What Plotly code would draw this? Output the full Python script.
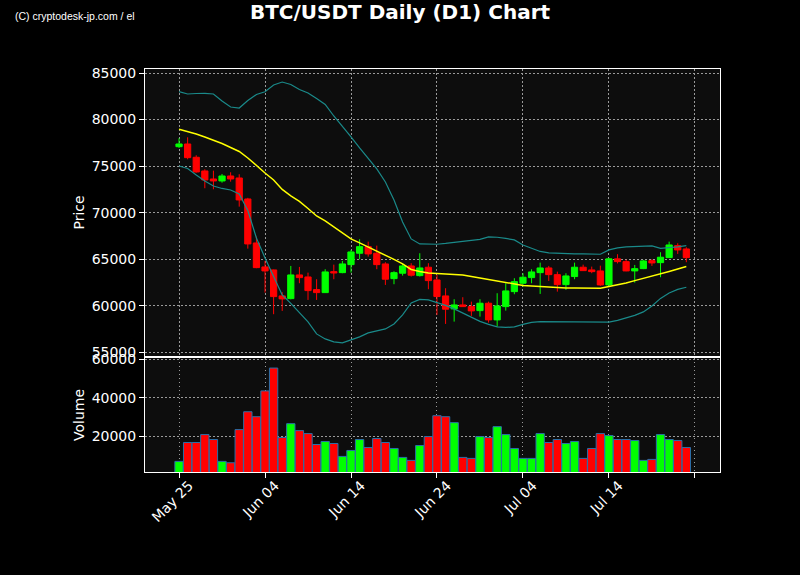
import pandas as pd
import plotly.graph_objects as go
from plotly.subplots import make_subplots

# Daily candles, 2024-05-25 .. 2024-07-23
dates = pd.date_range("2024-05-25", periods=60, freq="D")

opens = [77092, 77382, 75955, 74485, 73626, 73412, 73948, 73733, 71480, 66759,
         64184, 63862, 61072, 60782, 63325, 63110, 61748, 61426, 63679, 63572,
         64431, 65654, 66362, 65654, 64506, 62928, 63508, 64291, 63251, 64152,
         62789, 61072, 59677, 60106, 59924, 59495, 60289, 58497, 59924, 61533,
         62435, 63036, 63572, 64076, 63358, 62285, 63150, 64152, 63862, 63755,
         62252, 65050, 64752, 63755, 64001, 64860, 64645, 65182, 66469, 66115]
highs = [77993, 78100, 76169, 74667, 74517, 74163, 74345, 74131, 71600, 67435,
         64828, 63900, 61469, 64291, 64184, 63572, 62864, 63937, 64431, 64828,
         66008, 67156, 66899, 66469, 64688, 63722, 64506, 64581, 65654, 64581,
         63325, 61898, 60718, 60933, 60460, 60718, 60460, 61362, 62435, 62971,
         63508, 63937, 64645, 64291, 63679, 63508, 64645, 64431, 64220, 64323,
         65150, 65547, 64970, 64398, 64935, 65010, 65761, 66899, 66727, 66298]
lows = [76952, 75740, 74302, 72628, 72521, 73229, 73336, 70654, 66147, 64044,
        61426, 59109, 59463, 60700, 62435, 60643, 60643, 61400, 62864, 63508,
        63572, 65010, 65289, 63937, 62252, 62328, 63251, 63150, 63150, 61791,
        59033, 58068, 58314, 59900, 58926, 58851, 58207, 57778, 59495, 61255,
        62070, 62435, 61287, 62682, 61533, 61716, 62864, 63750, 63508, 62145,
        62150, 64560, 63720, 62499, 63950, 64291, 63079, 65150, 65579, 64688]
closes = [77382, 75912, 74377, 73519, 73412, 73948, 73626, 71373, 66652, 64109,
          63755, 60997, 60750, 63325, 63036, 61641, 61426, 63647, 63540, 64506,
          65793, 66362, 65579, 64431, 62864, 63572, 64291, 63293, 64076, 62714,
          61003, 59645, 60106, 59924, 59463, 60289, 58497, 60000, 61609, 62606,
          63079, 63647, 64076, 63358, 62285, 63218, 64152, 63787, 63679, 62252,
          65050, 64752, 63755, 64001, 64828, 64613, 65225, 66544, 66008, 65182]
volumes = [7150, 16920, 16920, 21030, 18460, 7150, 6430, 23600, 32850, 30280,
           43640, 55470, 19490, 26680, 23080, 21540, 15890, 17430, 16400, 9720,
           12800, 18460, 14350, 18970, 16920, 13830, 9200, 7660, 15370, 20000,
           30790, 30280, 27200, 9200, 8690, 20000, 19490, 25140, 21030, 13830,
           8690, 8690, 21540, 16920, 18460, 16400, 17430, 8690, 13830, 21540,
           20510, 18460, 18460, 17940, 7660, 8180, 21030, 18460, 17940, 14350]

# Bollinger bands (20, 2) as drawn on the chart
bb_upper = [82993, 82747, 82800, 82822, 82747, 81996, 81352, 81244, 82049, 82693,
            82993, 83712, 84034, 83766, 83230, 82854, 82253, 81620, 80386, 79313,
            78133, 76952, 75879, 74699, 73304, 71373, 69012, 67188, 66652, 66620,
            66620, 66705, 66813, 66920, 67027, 67135, 67403, 67370, 67242, 67081,
            66544, 66169, 65847, 65686, 65632, 65579, 65579, 65579, 65547, 65547,
            66008, 66222, 66330, 66383, 66437, 66437, 66169, 66222, 66330, 66469]
bb_mid = [78959, 78723, 78455, 78133, 77811, 77435, 77006, 76577, 75879, 75021,
          74270, 73519, 72500, 71802, 71212, 70461, 69656, 69120, 68476, 67886,
          67188, 66759, 66330, 65901, 65471, 64989, 64506, 63916, 63701, 63540,
          63486, 63433, 63379, 63325, 63164, 63003, 62843, 62628, 62467, 62306,
          62199, 62145, 62091, 62006, 61963, 61930, 61930, 61898, 61898, 61898,
          62091, 62252, 62467, 62714, 62950, 63164, 63411, 63701, 63969, 64237]
bb_lower = [75021, 74753, 74055, 73412, 72875, 72607, 72446, 72017, 70246, 67295,
            65149, 63111, 61179, 60267, 59248, 58282, 56995, 56458, 56136, 56029,
            56351, 56673, 57102, 57317, 57531, 58068, 59033, 60321, 60697, 60643,
            60375, 60053, 59677, 59248, 58765, 58336, 58014, 57746, 57692, 57746,
            58014, 58229, 58314, 58314, 58314, 58314, 58314, 58314, 58314, 58282,
            58250, 58443, 58711, 58980, 59355, 59999, 60804, 61394, 61770, 62006]

tick_dates = ["2024-05-25", "2024-06-04", "2024-06-14", "2024-06-24",
              "2024-07-04", "2024-07-14", "2024-07-24"]
tick_text = ["May 25", "Jun 04", "Jun 14", "Jun 24", "Jul 04", "Jul 14", ""]

GREEN = "#00ff00"
RED = "#ff0000"
bar_colors = [GREEN if c >= o else RED for o, c in zip(opens, closes)]

fig = make_subplots(rows=2, cols=1, shared_xaxes=True)

fig.add_trace(go.Scatter(x=dates, y=bb_upper, mode="lines",
                         line=dict(color="#1a8a8a", width=1.2)), row=1, col=1)
fig.add_trace(go.Scatter(x=dates, y=bb_lower, mode="lines",
                         line=dict(color="#1a8a8a", width=1.2)), row=1, col=1)
fig.add_trace(go.Scatter(x=dates, y=bb_mid, mode="lines",
                         line=dict(color="#ffff00", width=1.5)), row=1, col=1)
fig.add_trace(go.Candlestick(x=dates, open=opens, high=highs, low=lows, close=closes,
                             increasing=dict(line=dict(color=GREEN, width=1), fillcolor=GREEN),
                             decreasing=dict(line=dict(color=RED, width=1), fillcolor=RED)),
              row=1, col=1)
fig.add_trace(go.Bar(x=dates, y=volumes, width=86400000 * 0.97,
                     marker=dict(color=bar_colors, line=dict(color="#2a6fa8", width=1))),
              row=2, col=1)

axis_style = dict(showline=True, mirror=True, linecolor="white", linewidth=1,
                  showgrid=True, gridcolor="#9a9a9a", griddash="1.5px,2.5px", gridwidth=1,
                  zeroline=False, tickfont=dict(color="white", size=14, family="DejaVu Sans"),
                  ticks="outside", tickcolor="white", ticklen=5)

xrange = ["2024-05-21 01:00", "2024-07-26 22:00"]
fig.update_xaxes(axis_style, range=xrange, tickvals=tick_dates, ticktext=tick_text,
                 rangeslider_visible=False)
fig.update_xaxes(showticklabels=False, ticks="", row=1, col=1)
fig.update_xaxes(tickangle=-45, ticklabelshift=10, ticklabelstandoff=-6, row=2, col=1)

fig.update_yaxes(axis_style, tickformat="d")
fig.update_yaxes(range=[54630, 85430], tickvals=[55000, 60000, 65000, 70000, 75000, 80000, 85000],
                 domain=[0.288, 1.0],
                 title=dict(text="Price", font=dict(color="white", size=14, family="DejaVu Sans"),
                            standoff=3),
                 row=1, col=1)
fig.update_yaxes(range=[1650, 60700], tickvals=[20000, 40000, 60000], domain=[0.0, 0.283],
                 title=dict(text="Volume", font=dict(color="white", size=14, family="DejaVu Sans"),
                            standoff=3),
                 row=2, col=1)

fig.update_layout(
    width=800, height=575,
    paper_bgcolor="black", plot_bgcolor="#0d0d0d",
    margin=dict(l=145, r=80, t=69, b=103),
    showlegend=False,
    boxgap=0.15, boxgroupgap=0.15,
    title=dict(text="<b>BTC/USDT Daily (D1) Chart</b>", x=0.5, xanchor="center",
               y=0.979, yanchor="middle",
               font=dict(color="white", size=20, family="DejaVu Sans")),
    font=dict(family="DejaVu Sans", color="white"),
    annotations=[dict(text="(C) cryptodesk-jp.com / el", xref="paper", yref="paper",
                      x=-0.23, y=1.131, xanchor="left", yanchor="middle", showarrow=False,
                      font=dict(color="white", size=10.5, family="Liberation Sans"))],
)

fig.write_html("out.html", config={"displayModeBar": False},
               post_script="document.body.style.margin='0';")
